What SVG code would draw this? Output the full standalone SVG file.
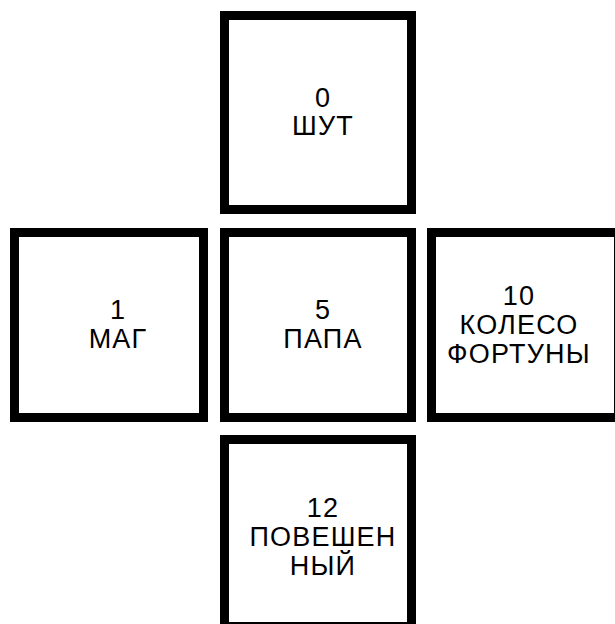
<svg xmlns="http://www.w3.org/2000/svg" width="615" height="624" viewBox="0 0 615 624">
<style>
.box{fill:#fff;stroke:#000;stroke-width:9}
text{font-family:"Liberation Sans",Arial,sans-serif;font-size:27px;letter-spacing:1.2px;fill:#000;text-anchor:middle}
</style>
<rect width="615" height="624" fill="#fff"/>
<g id="connectors"></g>
<g id="n0"><rect class="box" x="224.5" y="15.5" width="187" height="194"/><text x="323" y="107">0</text><text x="323" y="135">ШУТ</text></g>
<g id="n1"><rect class="box" x="14.5" y="232.5" width="189" height="185"/><text x="118" y="319">1</text><text x="118" y="348">МАГ</text></g>
<g id="n5"><rect class="box" x="224.5" y="232.5" width="187" height="185"/><text x="323" y="319">5</text><text x="323" y="348">ПАПА</text></g>
<g id="n10"><rect class="box" x="431.5" y="232.5" width="187" height="185"/><text x="519" y="305">10</text><text x="519" y="334">КОЛЕСО</text><text x="519" y="363">ФОРТУНЫ</text></g>
<g id="n12"><rect class="box" x="224.5" y="439.5" width="187" height="187"/><text x="323" y="517">12</text><text x="323" y="546">ПОВЕШЕН</text><text x="323" y="575">НЫЙ</text></g>
</svg>
